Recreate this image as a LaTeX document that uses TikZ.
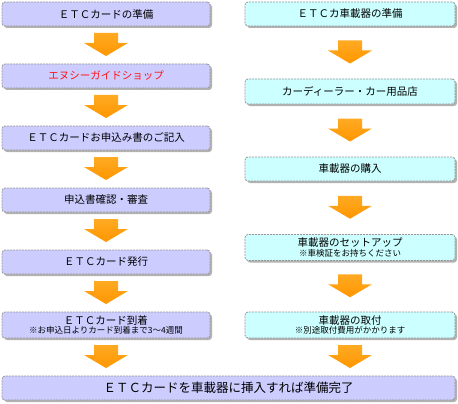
\documentclass[tikz,border=0pt]{standalone}
\usepackage{fontspec}
\setmainfont{Noto Sans CJK JP}
\usetikzlibrary{shadows,calc}
\definecolor{lav}{RGB}{204,204,255}
\definecolor{cyanl}{RGB}{204,255,255}
\definecolor{bord}{RGB}{150,150,150}
\definecolor{orA}{RGB}{255,170,35}
\definecolor{orB}{RGB}{255,150,0}
\definecolor{redt}{RGB}{255,20,20}
\tikzset{
  basebox/.style={draw=bord, line width=0.8pt, dash pattern=on 2pt off 1pt, rounded corners=3pt,
    inner sep=1pt, align=center, text=black,
    drop shadow={shadow xshift=2pt, shadow yshift=-2pt, fill=black!30, opacity=1}},
  lbox/.style={basebox, fill=lav, minimum width=208pt},
  rbox/.style={basebox, fill=cyanl, minimum width=210pt},
  arrowshade/.style={top color=orA, bottom color=orB, draw=none}
}
\newcommand\mainline[1]{{\fontsize{10.5}{11.5}\selectfont #1}}
\newcommand\subline[1]{{\fontsize{8.5}{9.5}\selectfont #1}}
\newcommand\barrow[2]{%
  \shade[arrowshade] let \p1=(#1.south), \p2=(#2.north), \n1={0.5*(\y1+\y2)} in
  ({\x1-12pt},{\n1*1pt+12pt}) -- ({\x1+12pt},{\n1*1pt+12pt}) -- ({\x1+12pt},{\n1*1pt+2pt})
  -- ({\x1+22pt},{\n1*1pt+2pt}) -- ({\x1},{\n1*1pt-11pt}) -- ({\x1-22pt},{\n1*1pt+2pt})
  -- ({\x1-12pt},{\n1*1pt+2pt}) -- cycle;}
\begin{document}
\begin{tikzpicture}[x=1pt,y=-1pt]
\useasboundingbox (0,0) rectangle (458,404);
% left column
\node[lbox, minimum height=24pt] (l1) at (106,14) {\mainline{ＥＴＣカードの準備}};
\node[lbox, minimum height=24pt] (l2) at (106,76) {\mainline{\textcolor{redt}{エヌシーガイドショップ}}};
\node[lbox, minimum height=24pt] (l3) at (106,138) {\mainline{ＥＴＣカードお申込み書のご記入}};
\node[lbox, minimum height=24pt] (l4) at (106,200) {\mainline{申込書確認・審査}};
\node[lbox, minimum height=24pt] (l5) at (106,262) {\mainline{ＥＴＣカード発行}};
\node[lbox, minimum height=26pt] (l6) at (106,325) {\mainline{ＥＴＣカード到着}\\[-2.5pt]\subline{※お申込日よりカード到着まで3～4週間}};
% right column
\node[rbox, minimum height=24pt] (r1) at (350,14) {\mainline{ＥＴＣカ車載器の準備}};
\node[rbox, minimum height=25pt] (r2) at (350,91.5) {\mainline{カーディーラー・カー用品店}};
\node[rbox, minimum height=24pt] (r3) at (350,169) {\mainline{車載器の購入}};
\node[rbox, minimum height=26pt] (r4) at (350,247.5) {\mainline{車載器のセットアップ}\\[-2.5pt]\subline{※車検証をお持ちください}};
\node[rbox, minimum height=26pt] (r5) at (350,325) {\mainline{車載器の取付}\\[-2.5pt]\subline{※別途取付費用がかかります}};
% final
\node[basebox, fill=lav, minimum width=453pt, minimum height=24pt] (fin) at (228.5,388) {{\fontsize{12.5}{13}\selectfont ＥＴＣカードを車載器に挿入すれば準備完了}};
% arrows
\barrow{l1}{l2}
\barrow{l2}{l3}
\barrow{l3}{l4}
\barrow{l4}{l5}
\barrow{l5}{l6}
\barrow{l6}{fin}
\barrow{r1}{r2}
\barrow{r2}{r3}
\barrow{r3}{r4}
\barrow{r4}{r5}
\barrow{r5}{fin}
\end{tikzpicture}
\end{document}
